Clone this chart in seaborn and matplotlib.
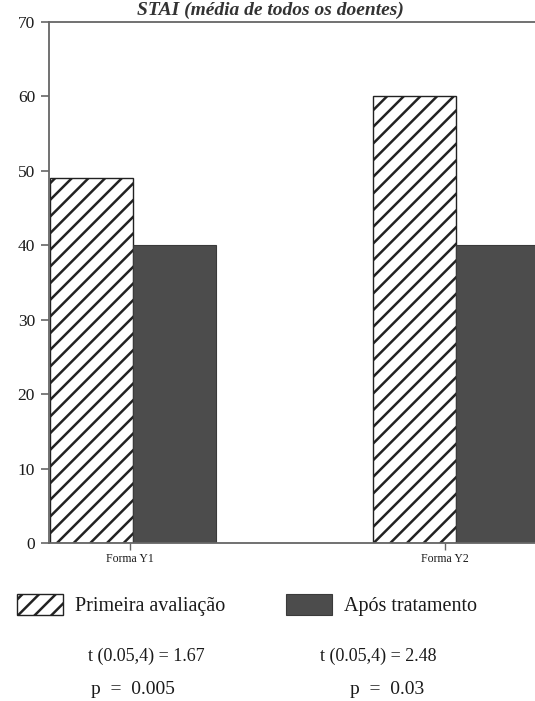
import matplotlib
matplotlib.use("Agg")
import matplotlib.pyplot as plt
import seaborn as sns
import pandas as pd

# Scores per form: first assessment vs. after treatment
formas = ["Forma Y1", "Forma Y2"]
primeira = [49, 60]
apos = [40, 40]
grupos = ["Primeira avaliação", "Após tratamento"]
y_ticks = [0, 10, 20, 30, 40, 50, 60, 70]
estatisticas = [("t (0.05,4) = 1.67", "p  =  0.005"),
                ("t (0.05,4) = 2.48", "p  =  0.03")]
titulo = "STAI (média de todos os doentes)"

df = pd.DataFrame({
    "forma": formas * 2,
    "grupo": [grupos[0]] * 2 + [grupos[1]] * 2,
    "valor": primeira + apos,
})

sns.set_theme(style="white")
plt.rcParams["font.family"] = ["Liberation Serif", "DejaVu Serif"]
plt.rcParams["hatch.linewidth"] = 1.8

W, H = 535, 701
fig = plt.figure(figsize=(W / 100, H / 100), dpi=100)
ax = fig.add_axes([49 / W, 1 - 543 / H, (W - 49) / W, (543 - 22) / H])

sns.barplot(data=df, x="forma", y="valor", hue="grupo", hue_order=grupos,
            order=formas, palette=["white", "#4c4c4c"], width=0.514,
            saturation=1, ax=ax, legend=False)

hatched, dark = ax.containers[0], ax.containers[1]
for p in hatched:
    p.set_hatch("//")
    p.set_edgecolor("#222222")
    p.set_linewidth(1.0)
for p in dark:
    p.set_edgecolor("#3a3a3a")
    p.set_linewidth(0.8)

ax.set_xlim(-0.26, 1.245)
ax.set_ylim(0, 70)
ax.set_yticks(y_ticks)
ax.set_xlabel("")
ax.set_ylabel("")

for side in ("left", "bottom", "top"):
    ax.spines[side].set_visible(True)
    ax.spines[side].set_color("#666666")
    ax.spines[side].set_linewidth(1.3)
ax.spines["right"].set_visible(False)

ax.tick_params(axis="y", which="both", left=True, length=6, width=1.2,
               color="#666666", labelsize=12.5, pad=4, labelcolor="#1a1a1a")
ax.tick_params(axis="x", which="both", bottom=True, length=5, width=1.0,
               color="#666666", labelsize=8.5, pad=2, labelcolor="#1a1a1a")
ax.set_xticks([-0.01, 0.966])
ax.set_xticklabels(formas)

# Title along the top edge of the page
fig.text(0.505, 1 - 15 / H, titulo, ha="center", va="baseline", fontsize=14,
         style="italic", fontweight="bold", color="#333333")

# Legend
fig.legend(handles=[hatched[0], dark[0]], labels=grupos, ncol=2,
           loc="upper left", bbox_to_anchor=(17 / W, 1 - 594 / H),
           frameon=False, fontsize=14.5, handlelength=2.29, handleheight=1.2,
           handletextpad=0.6, columnspacing=3.0, borderpad=0,
           borderaxespad=0, labelcolor="#1a1a1a")

# Test statistics under each form
for (cx_t, cx_p), (t_txt, p_txt) in zip([(146, 133), (378, 387)], estatisticas):
    fig.text(cx_t / W, 1 - 656 / H, t_txt, ha="center", va="center",
             fontsize=13, color="#1a1a1a")
    fig.text(cx_p / W, 1 - 689 / H, p_txt, ha="center", va="center",
             fontsize=14, color="#1a1a1a")

fig.savefig("out.png", dpi=100)
